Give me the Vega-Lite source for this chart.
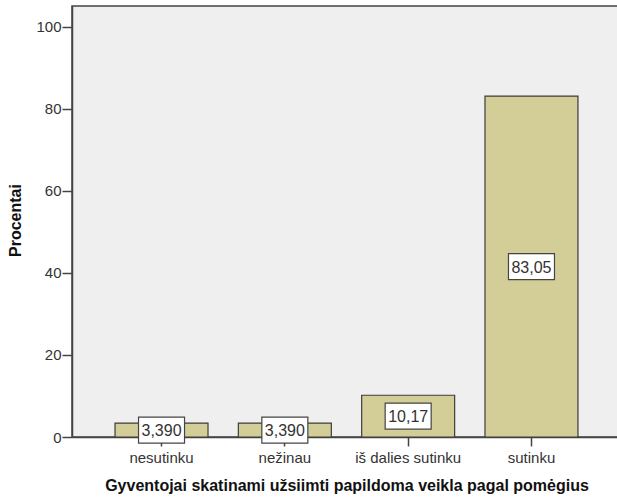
{
  "$schema": "https://vega.github.io/schema/vega-lite/v6.json",
  "autosize": {"type": "none"},
  "padding": {"left": 72, "top": 6, "right": 0, "bottom": 62},
  "width": 549,
  "height": 431,
  "background": "white",
  "config": {
    "font": "Liberation Sans",
    "view": {"fill": "#efefef", "stroke": "#444444", "strokeWidth": 1.5},
    "axis": {"grid": false, "domainColor": "#444444", "domainWidth": 1.5, "tickColor": "#444444", "tickWidth": 1.5, "labelColor": "#333333", "labelFontSize": 15, "labelFont": "Liberation Sans", "titleFont": "Liberation Sans", "titleColor": "#111111", "titleFontWeight": "bold", "titleFontSize": 16}
  },
  "data": {
    "values": [
      {"cat": "nesutinku", "pct": 3.390, "label": "3,390"},
      {"cat": "nežinau", "pct": 3.390, "label": "3,390"},
      {"cat": "iš dalies sutinku", "pct": 10.17, "label": "10,17"},
      {"cat": "sutinku", "pct": 83.05, "label": "83,05"}
    ]
  },
  "transform": [{"calculate": "datum.pct / 2", "as": "mid"}],
  "encoding": {
    "x": {
      "field": "cat",
      "type": "nominal",
      "sort": null,
      "scale": {"paddingInner": 0.246, "paddingOuter": 0.349},
      "axis": {"title": "Gyventojai skatinami užsiimti papildoma veikla pagal pomėgius", "labelAngle": 0, "tickSize": 9, "labelPadding": 4, "titlePadding": 12}
    }
  },
  "layer": [
    {
      "mark": {"type": "bar", "fill": "#d3ce97", "stroke": "#3c3c3c", "strokeWidth": 1.2},
      "encoding": {
        "y": {
          "field": "pct",
          "type": "quantitative",
          "scale": {"domain": [0, 105], "nice": false},
          "axis": {"title": "Procentai", "values": [0, 20, 40, 60, 80, 100], "tickSize": 10, "labelPadding": 1, "titleX": -57, "titleY": 214, "titleAngle": -90, "titleAlign": "center", "titleBaseline": "middle"}
        }
      }
    },
    {
      "mark": {"type": "point", "shape": "M-2.3,-1.3H2.3V1.3H-2.3Z", "size": 400, "filled": true, "fill": "white", "stroke": "#444444", "strokeWidth": 1.2, "opacity": 1},
      "encoding": {"y": {"field": "mid", "type": "quantitative"}}
    },
    {
      "mark": {"type": "text", "fontSize": 16, "color": "#333333", "baseline": "middle", "dy": 1},
      "encoding": {"y": {"field": "mid", "type": "quantitative"}, "text": {"field": "label"}}
    }
  ]
}
